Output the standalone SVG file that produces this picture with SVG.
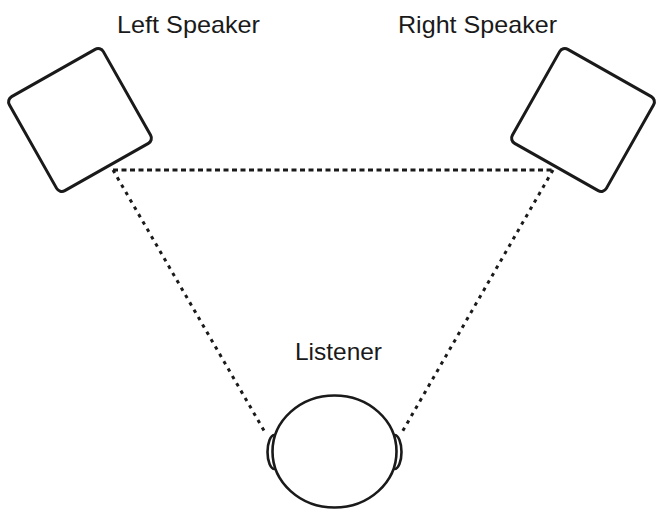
<svg xmlns="http://www.w3.org/2000/svg" width="662" height="512" viewBox="0 0 662 512">
<style>
.lbl{font-family:"Liberation Sans",Arial,sans-serif;font-size:24px;fill:#1a1a1a}
.box{fill:#fff;stroke:#1a1a1a;stroke-width:3}
.dot{fill:none;stroke:#1a1a1a;stroke-width:3}
.h{stroke-dasharray:5 3.5}
.d{stroke-dasharray:3.5 5}
.head{fill:#fff;stroke:#1a1a1a;stroke-width:2.6}
</style>
<rect width="662" height="512" fill="#fff"/>
<g id="connectors">
<line class="dot h" x1="113" y1="170" x2="553" y2="170"/>
<line class="dot d" x1="113" y1="170" x2="266" y2="434"/>
<line class="dot d" x1="553" y1="170" x2="401" y2="434"/>
</g>
<g id="left-speaker">
<rect class="box" x="-54" y="-54" width="108" height="108" rx="6" transform="translate(80 120) rotate(-29.5)"/>
<text class="lbl" x="117" y="33" textLength="143" lengthAdjust="spacingAndGlyphs">Left Speaker</text>
</g>
<g id="right-speaker">
<rect class="box" x="-54" y="-54" width="108" height="108" rx="6" transform="translate(583 120) rotate(29.5)"/>
<text class="lbl" x="398" y="33" textLength="159" lengthAdjust="spacingAndGlyphs">Right Speaker</text>
</g>
<g id="listener">
<ellipse class="head" cx="274.5" cy="452" rx="7" ry="17"/>
<ellipse class="head" cx="394.5" cy="452" rx="7" ry="17"/>
<ellipse class="head" cx="334.5" cy="451.5" rx="62" ry="56"/>
<text class="lbl" x="295" y="360" textLength="87" lengthAdjust="spacingAndGlyphs">Listener</text>
</g>
</svg>
